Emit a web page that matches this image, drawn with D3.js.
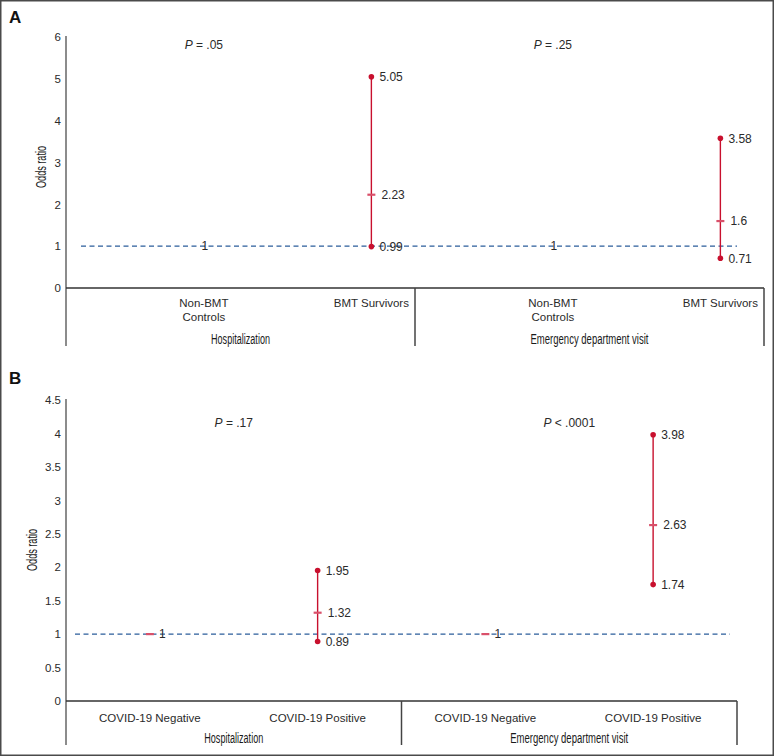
<!DOCTYPE html>
<html>
<head>
<meta charset="utf-8">
<script src="https://cdn.jsdelivr.net/npm/d3@7"></script>
<style>
  html, body { margin: 0; padding: 0; background: #fff; }
  svg { display: block; }
  text { font-family: "Liberation Sans", Arial, sans-serif; fill: #2a2a2a; }
  .cond { font-family: "Liberation Sans", Arial, sans-serif; fill: #1a1a1a; }
</style>
</head>
<body>
<svg id="chart" width="774" height="756"></svg>
<script>
// ---------------- DATA ----------------
// Panel A
const groupsA = ["Hospitalization", "Emergency department visit"];
const categoriesA = [["Non-BMT", "Controls"], ["BMT Survivors"]];
const oddsA = [[1, 2.23], [1, 1.6]];          // per group: [reference, comparison]
const lowerA = [[null, 0.99], [null, 0.71]];
const upperA = [[null, 5.05], [null, 3.58]];
const pValuesA = ["= .05", "= .25"];
const pSymbolsA = ["P", "P"];
const yTicksA = [0, 1, 2, 3, 4, 5, 6];
const yTickLabelsA = ["0", "1", "2", "3", "4", "5", "6"];

// Panel B
const groupsB = ["Hospitalization", "Emergency department visit"];
const categoriesB = [["COVID-19 Negative"], ["COVID-19 Positive"]];
const oddsB = [[1, 1.32], [1, 2.63]];
const lowerB = [[null, 0.89], [null, 1.74]];
const upperB = [[null, 1.95], [null, 3.98]];
const pValuesB = ["= .17", "< .0001"];
const pSymbolsB = ["P", "P"];
const yTicksB = [0, 0.5, 1, 1.5, 2, 2.5, 3, 3.5, 4, 4.5];
const yTickLabelsB = ["0", "0.5", "1", "1.5", "2", "2.5", "3", "3.5", "4", "4.5"];

const yLabel = "Odds ratio";
const referenceValue = 1;

// ---------------- LAYOUT ----------------
const svg = d3.select("#chart");
const RED = "#c8102e";
const MEANRED = "#d9506a";
const BLUE = "#2b5d9b";

svg.append("rect").attr("x", 0.75).attr("y", 0.75).attr("width", 772.5).attr("height", 754.5)
  .attr("fill", "none").attr("stroke", "#4a4a4a").attr("stroke-width", 1.5);

function drawPanel(cfg) {
  const g = svg.append("g");
  const y = d3.scaleLinear().domain(cfg.yDomain).range([cfg.y0, cfg.yTop]);
  const groupX = d3.scaleBand().domain(cfg.groups).range([cfg.x0, cfg.x1]);
  const catX = cfg.groups.map(gr => {
    const s = groupX(gr), w = groupX.bandwidth();
    return d3.scalePoint().domain(cfg.categories.map((c, i) => i))
      .range([s + cfg.catFrac[0] * w, s + cfg.catFrac[1] * w]);
  });

  // panel letter
  g.append("text").attr("x", 9).attr("y", cfg.letterY).attr("font-size", 17)
    .attr("font-weight", "bold").style("fill", "#111").text(cfg.letter);

  // y axis (labels only, no ticks)
  const yAxis = d3.axisLeft(y).tickValues(cfg.yTicks).tickSize(0).tickPadding(5)
    .tickFormat((d, i) => cfg.yTickLabels[i]);
  const ax = g.append("g").attr("transform", `translate(${cfg.x0},0)`).call(yAxis);
  ax.select(".domain").remove();
  ax.selectAll("text").attr("font-size", 11.5).style("font-family", "Liberation Sans, Arial, sans-serif").style("fill", "#2a2a2a");

  // vertical axis line
  g.append("line").attr("x1", cfg.x0).attr("x2", cfg.x0).attr("y1", cfg.yTop - 1).attr("y2", cfg.bottom)
    .attr("stroke", "#666").attr("stroke-width", 1.5);
  // horizontal zero line
  g.append("line").attr("x1", cfg.x0).attr("x2", cfg.x1).attr("y1", y(0)).attr("y2", y(0))
    .attr("stroke", "#333").attr("stroke-width", 1.3);
  // dividers
  const divs = cfg.groups.slice(1).map(gr => groupX(gr)).concat([cfg.x1]);
  divs.forEach(dx => {
    g.append("line").attr("x1", dx).attr("x2", dx).attr("y1", y(0)).attr("y2", cfg.bottom)
      .attr("stroke", "#444").attr("stroke-width", 1.5);
  });

  // y label
  g.append("text").attr("class", "cond").attr("font-size", 14)
    .attr("transform", `translate(${cfg.yLabelX},${cfg.yLabelY}) rotate(-90)`)
    .attr("text-anchor", "middle").attr("textLength", 42).attr("lengthAdjust", "spacingAndGlyphs")
    .text(yLabel);

  // reference dashed line
  g.append("line").attr("x1", cfg.dashX[0]).attr("x2", cfg.dashX[1])
    .attr("y1", y(referenceValue)).attr("y2", y(referenceValue))
    .attr("stroke", BLUE).attr("stroke-width", 1.3).attr("stroke-dasharray", "5,3.5");

  cfg.groups.forEach((gr, gi) => {
    const sx = catX[gi];
    // group label
    g.append("text").attr("class", "cond").attr("font-size", 14).attr("text-anchor", "middle")
      .attr("x", groupX(gr) + groupX.bandwidth() / 2).attr("y", cfg.groupLabelY)
      .attr("textLength", gr.length > 20 ? 118 : 59).attr("lengthAdjust", "spacingAndGlyphs")
      .text(gr);
    // P value
    const px = cfg.pOverGroup ? groupX(gr) + groupX.bandwidth() / 2 : sx(0);
    const pt = g.append("text").attr("font-size", 12).attr("text-anchor", "middle")
      .attr("x", px).attr("y", cfg.pY);
    pt.append("tspan").attr("font-style", "italic").text(cfg.pSymbols[gi]);
    pt.append("tspan").text(" " + cfg.pValues[gi]);

    cfg.categories.forEach((cat, ci) => {
      const cx = sx(ci);
      cat.forEach((line, li) => {
        g.append("text").attr("font-size", 11.5).attr("text-anchor", "middle")
          .attr("x", cx).attr("y", cfg.catLabelY + li * 14).text(line);
      });
      const or = cfg.odds[gi][ci], lo = cfg.lower[gi][ci], hi = cfg.upper[gi][ci];
      if (lo !== null) {
        g.append("line").attr("x1", cx).attr("x2", cx).attr("y1", y(lo)).attr("y2", y(hi))
          .attr("stroke", RED).attr("stroke-width", 1.4);
        [lo, hi].forEach(v => {
          g.append("circle").attr("cx", cx).attr("cy", y(v)).attr("r", 2.8).attr("fill", RED);
          g.append("text").attr("font-size", 12).attr("x", cx + 8).attr("y", y(v)).attr("dy", "0.36em").text(v);
        });
        g.append("line").attr("x1", cx - 4).attr("x2", cx + 4).attr("y1", y(or)).attr("y2", y(or))
          .attr("stroke", MEANRED).attr("stroke-width", 2.2);
        g.append("text").attr("font-size", 12).attr("x", cx + 10).attr("y", y(or)).attr("dy", "0.36em").text(or);
      } else {
        if (cfg.showRefMarker) {
          g.append("line").attr("x1", cx - 4).attr("x2", cx + 4).attr("y1", y(or)).attr("y2", y(or))
            .attr("stroke", MEANRED).attr("stroke-width", 2.2);
          g.append("text").attr("font-size", 12).attr("x", cx + 9).attr("y", y(or)).attr("dy", "0.36em").text(or);
        } else {
          g.append("text").attr("font-size", 12).attr("text-anchor", "middle").attr("x", cx + 1)
            .attr("y", y(or)).attr("dy", "0.36em").text(or);
        }
      }
    });
  });
}

drawPanel({
  letter: "A", letterY: 23,
  groups: groupsA, categories: categoriesA, odds: oddsA, lower: lowerA, upper: upperA,
  pValues: pValuesA, pSymbols: pSymbolsA, yTicks: yTicksA, yTickLabels: yTickLabelsA,
  yDomain: [0, 6], x0: 66, x1: 764, yTop: 37, y0: 288, bottom: 346,
  catFrac: [0.395, 0.875], dashX: [81, 737], pY: 49, pOverGroup: false,
  catLabelY: 307, groupLabelY: 344, yLabelX: 46, yLabelY: 167, showRefMarker: false
});

drawPanel({
  letter: "B", letterY: 384,
  groups: groupsB, categories: categoriesB, odds: oddsB, lower: lowerB, upper: upperB,
  pValues: pValuesB, pSymbols: pSymbolsB, yTicks: yTicksB, yTickLabels: yTickLabelsB,
  yDomain: [0, 4.5], x0: 66, x1: 737, yTop: 400, y0: 701, bottom: 745,
  catFrac: [0.25, 0.75], dashX: [75, 730], pY: 427, pOverGroup: true,
  catLabelY: 722, groupLabelY: 743, yLabelX: 37, yLabelY: 550, showRefMarker: true
});
</script>
</body>
</html>
